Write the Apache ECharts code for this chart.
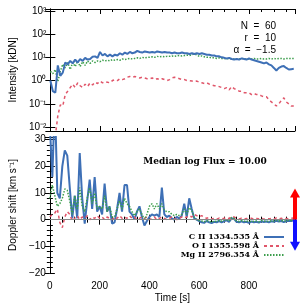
<!DOCTYPE html>
<html><head><meta charset="utf-8">
<script src="https://cdn.jsdelivr.net/npm/echarts@6/dist/echarts.min.js"></script>
<style>html,body{margin:0;padding:0;background:#fff}#c{width:305px;height:305px}</style>
</head><body><div id="c"></div>
<script>
const times = [0,10,20,30,40,50,60,70,80,90,100,110,120,130,140,150,160,170,180,190,200,210,220,230,240,250,260,270,280,290,300,310,320,330,340,350,360,370,380,390,400,410,420,430,440,450,460,470,480,490,500,510,520,530,540,550,560,570,580,590,600,610,620,630,640,650,660,670,680,690,700,710,720,730,740,750,760,770,780,790,800,810,820,830,840,850,860,870,880,890,900,910,920,930,940,950,960,970,980];
const intensityCII = [1.0,0.35,0.3,4.5,1.6,2.2,6.0,5.0,7.0,5.5,8.0,6.0,8.5,7.0,9.5,8.0,8.5,10.5,11,9.5,17,12,14,11,13,11,13,12,15,13,16,14,17,15,16,19,17,16,18,17,16,17,16,18,17,16,17,16,16,15,16,15,15,16,15,15,14,15,14,15,14,15,14,13,13,12,12,11,11,10,9.5,9,9.5,8.5,8,8.5,8,9,8.5,8,9,8,7.5,7,6.5,6,5.5,6,5,4.5,3.5,2.7,3.5,4,4.2,3.5,3.0,3.1,3.2];
const intensityOI = [null,null,0.004,0.03,0.09,0.08,0.25,0.35,0.5,0.7,0.5,0.8,0.6,0.5,0.7,0.55,0.8,0.65,0.85,0.75,0.95,0.8,0.9,0.85,0.8,1.0,1.1,1.0,1.2,1.1,1.2,1.4,1.5,1.4,1.5,1.4,1.3,1.4,1.3,1.2,1.2,1.3,1.1,1.2,1.1,1.2,1.1,1.0,1.1,1.3,1.4,1.3,1.2,1.1,1.1,1.0,1.0,0.95,0.9,0.95,0.85,0.8,0.75,0.8,0.7,0.65,0.6,0.6,0.55,0.5,0.45,0.5,0.4,0.55,0.45,0.4,0.35,0.35,0.3,0.3,0.3,0.25,0.28,0.25,0.25,0.22,0.2,0.2,0.15,0.12,0.1,0.08,0.1,0.14,0.18,0.12,0.1,0.08,0.08];
const intensityMgII = [2.5,2.0,3.0,0.9,2.5,5.0,3.5,6.0,3.0,6.0,4.0,7.0,4.0,6.5,4.5,7.0,5.5,7.0,6.0,7.0,6.5,7.5,7,7.5,7,8,7.5,8,7.5,8.5,8,8.5,9,8.5,9,9.5,9,10,9.5,10,10,10.5,10,11,10.5,11,10.5,11,11,11.5,11,11.5,12,11.5,12,12.5,12,13,14,12.5,11,11.5,10.5,10,10,9.5,9.5,9,9.5,9,9,8.5,9,8.5,8.5,8.5,8.5,9,8.5,8.5,8.5,8.5,9,8.5,8.5,9,8.5,8.5,9,8.5,9,8.5,9,9,8.5,9,9,9,9];
const dopplerCII = [35,16,45,10,8,20,26,24,12,0.5,9,0.5,25,8,-1.5,7,15,4,16,3,5,2,13.5,3,5,-1.5,-1,4,10,3,13,13,3,2,0,3,5,1,-2.2,-0.5,1,2,1.5,2,1,12,2,1,1.5,0.5,0,1,0.5,1.5,6,1,8,4,0.5,0,-0.5,-1,-1.2,-0.5,-1,-1.3,-0.8,-1,-0.5,-1,-0.6,-0.2,-0.8,0.5,0.3,-0.8,-1,-0.6,-1,-0.8,-1.2,-0.7,-1,-0.8,-1.1,-0.6,-0.9,-0.7,-1,-0.6,-0.8,-0.4,-0.7,-0.5,-0.9,-0.6,-0.4,-0.5,-0.2];
const dopplerOI = [1,2,2.5,4,-1,-3,1,3,2,-0.5,0.5,1.5,0,1,0.5,1.5,0,1,0.5,1.5,0.5,1,0,1,0.5,0,1,0.5,1.5,0.5,1,0.5,1.5,0.5,1,0,0.5,1,0.5,1,0,0.5,1,0,0.5,1,0.5,0,0.5,1,0.5,0,0.5,1,0.5,1,1.5,1,2,1.5,1,1.5,1,0.5,0.8,0.3,0.5,0.2,0.6,0.3,0.5,0.8,0.4,1.2,1,0.5,0.3,0.5,0.2,0.4,0.3,0.5,0.2,0.4,0.3,0.5,0.2,0.4,0.3,0.5,0.3,0.6,0.3,0.5,0.2,0.4,0.3,0.5,0.6];
const dopplerMgII = [8,13,9,5,6,8,11.5,11,7,2,9,4,12,5,3,8,12,6,10,4,5,4,9,3,5,1,1,4,7,4,8,6,5,3,1.5,3,4,2,0,2,5,6,4,6,4,6,3.5,3,3,2,1.5,2,1.5,2,4,2,4.5,3.5,1,0,-0.3,-0.5,-0.8,-0.3,-0.6,-1,-0.5,-0.7,-0.3,-0.6,-0.2,0,-0.5,0.8,0.5,-0.5,-0.7,-0.4,-0.6,-0.5,-0.8,-0.5,-0.7,-0.5,-0.8,-0.4,-0.6,-0.5,-0.7,-0.4,-0.5,-0.2,-0.5,-0.3,-0.6,-0.4,-0.2,-0.3,0];
const seriesNames = ['C II 1334.535 Å','O I 1355.598 Å','Mg II 2796.354 Å'];
const xTicks = [0,200,400,600,800];
const logTicks = [-2,-1,0,1,2,3];
const dopplerTicks = [-20,-10,0,10,20,30];
const redArrow = [0,10], blueArrow = [0,-10];
const xMax = 985;

const sup = {'-':'⁻','0':'⁰','1':'¹','2':'²','3':'³','4':'⁴','5':'⁵','6':'⁶','7':'⁷','8':'⁸','9':'⁹'};
function supStr(n){return String(n).split('').map(c=>sup[c]).join('');}
function pair(vals){return times.map((t,i)=>[t, vals[i]]);}

const colors = ['#3e70b6','#e0566a','#3c9e4c'];
const lineStyles = [
  {color:colors[0], width:2},
  {color:colors[1], width:1.5, type:[3,3]},
  {color:colors[2], width:1.5, type:[1.5,1.5]}
];
const font = 'Liberation Sans';
const axisCommon = {
  axisLine:{show:true,lineStyle:{color:'#000',width:1}},
  axisTick:{show:true,inside:true,length:5,lineStyle:{color:'#000'}},
  splitLine:{show:false},
};
function xAx(grid, showLabels, pos){
  return Object.assign({}, axisCommon, {
    type:'value', gridIndex:grid, min:0, max:xMax, interval:200, position:pos,
    minorTick:{show:true,splitNumber:4,length:3,lineStyle:{color:'#000'}},
    axisLabel:{show:showLabels, color:'#000', fontFamily:font, fontSize:10, margin:8,
      formatter:v=> xTicks.indexOf(v)>=0 ? String(v) : ''},
    name: (showLabels ? 'Time [s]' : ''), nameLocation:'middle', nameGap:20,
    nameTextStyle:{color:'#000', fontFamily:font, fontSize:10}
  });
}
const ch = echarts.init(document.getElementById('c'), null, {renderer:'canvas'});
ch.setOption({
  animation:false,
  backgroundColor:'#fff',
  grid:[
    {left:45, right:10, top:9, height:122},
    {left:45, right:10, top:137, height:136}
  ],
  xAxis:[xAx(0,false,'bottom'), xAx(0,false,'top'), xAx(1,true,'bottom'), xAx(1,false,'top')],
  yAxis:[
    Object.assign({}, axisCommon, {type:'log', gridIndex:0, logBase:10, min:Math.pow(10,-2.17), max:Math.pow(10,3.08), position:'left',
      axisLabel:{color:'#000', fontFamily:font, fontSize:10, margin:4,
        formatter:v=>{const e=Math.round(Math.log10(v)); return (Math.abs(Math.log10(v)-e)<1e-6 && logTicks.indexOf(e)>=0) ? '10'+supStr(e) : '';}},
      name:'Intensity [kDN]', nameLocation:'middle', nameGap:30, nameRotate:90,
      nameTextStyle:{color:'#000', fontFamily:font, fontSize:10}}),
    Object.assign({}, axisCommon, {type:'log', gridIndex:0, logBase:10, min:Math.pow(10,-2.17), max:Math.pow(10,3.08), position:'right', axisLabel:{show:false}}),
    Object.assign({}, axisCommon, {type:'value', gridIndex:1, min:-20, max:31, interval:10, position:'left',
      minorTick:{show:true,splitNumber:5,length:3,lineStyle:{color:'#000'}},
      axisLabel:{color:'#000', fontFamily:font, fontSize:10, margin:4,
        formatter:v=> dopplerTicks.indexOf(v)>=0 ? String(v).replace('-','−') : ''},
      name:'Doppler shift [km s⁻¹]', nameLocation:'middle', nameGap:27, nameRotate:90,
      nameTextStyle:{color:'#000', fontFamily:font, fontSize:10}}),
    Object.assign({}, axisCommon, {type:'value', gridIndex:1, min:-20, max:31, interval:10, position:'right',
      minorTick:{show:true,splitNumber:5,length:3,lineStyle:{color:'#000'}}, axisLabel:{show:false}})
  ],
  legend:{
    orient:'vertical', right:20, top:233, align:'right', itemGap:1, itemWidth:20, itemHeight:8,
    padding:0,
    data:seriesNames,
    itemStyle:{opacity:0},
    textStyle:{color:'#000', fontFamily:'DejaVu Serif', fontSize:8, fontWeight:'bold'}
  },
  graphic:[
    {type:'text', x:276, y:21, style:{text:'N  =  60', textAlign:'right', font:'10px '+font, fill:'#000'}},
    {type:'text', x:276, y:33, style:{text:'r  =  10', textAlign:'right', font:'10px '+font, fill:'#000'}},
    {type:'text', x:276, y:45, style:{text:'α  =  −1.5', textAlign:'right', font:'10px '+font, fill:'#000'}},
    {type:'text', x:205, y:157, style:{text:'Median log Flux = 10.00', textAlign:'center', font:'bold 9px DejaVu Serif', fill:'#000'}}
  ],
  series:[
    {name:seriesNames[1], type:'line', xAxisIndex:0, yAxisIndex:0, data:pair(intensityOI), showSymbol:false, symbol:'none', lineStyle:lineStyles[1], color:colors[1], connectNulls:false},
    {name:seriesNames[2], type:'line', xAxisIndex:0, yAxisIndex:0, data:pair(intensityMgII), showSymbol:false, symbol:'none', lineStyle:lineStyles[2], color:colors[2]},
    {name:seriesNames[0], type:'line', xAxisIndex:0, yAxisIndex:0, data:pair(intensityCII), showSymbol:false, symbol:'none', lineStyle:lineStyles[0], color:colors[0]},
    {name:seriesNames[0], type:'line', xAxisIndex:2, yAxisIndex:2, data:pair(dopplerCII), showSymbol:false, symbol:'none', lineStyle:lineStyles[0], color:colors[0], z:2,
      markLine:{silent:true, symbol:'none', animation:false, label:{show:false},
        lineStyle:{color:'#888', width:1, type:'solid'}, data:[{yAxis:0}]}},
    {name:seriesNames[1], type:'line', xAxisIndex:2, yAxisIndex:2, data:pair(dopplerOI), showSymbol:false, symbol:'none', lineStyle:lineStyles[1], color:colors[1], z:3},
    {name:seriesNames[2], type:'line', xAxisIndex:2, yAxisIndex:2, data:pair(dopplerMgII), showSymbol:false, symbol:'none', lineStyle:lineStyles[2], color:colors[2], z:4,
      markLine:{silent:true, animation:false, label:{show:false}, symbol:['none','triangle'], symbolSize:[10,9],
        data:[
          [{coord:[xMax,redArrow[0]], lineStyle:{color:'#ff0000', width:4, type:'solid'}, symbol:'none'},{coord:[xMax,redArrow[1]], symbol:'triangle', itemStyle:{color:'#ff0000'}}],
          [{coord:[xMax,blueArrow[0]], lineStyle:{color:'#1010ff', width:4, type:'solid'}, symbol:'none'},{coord:[xMax,blueArrow[1]], symbol:'triangle', itemStyle:{color:'#1010ff'}}]
        ]}}
  ]
});
</script></body></html>
